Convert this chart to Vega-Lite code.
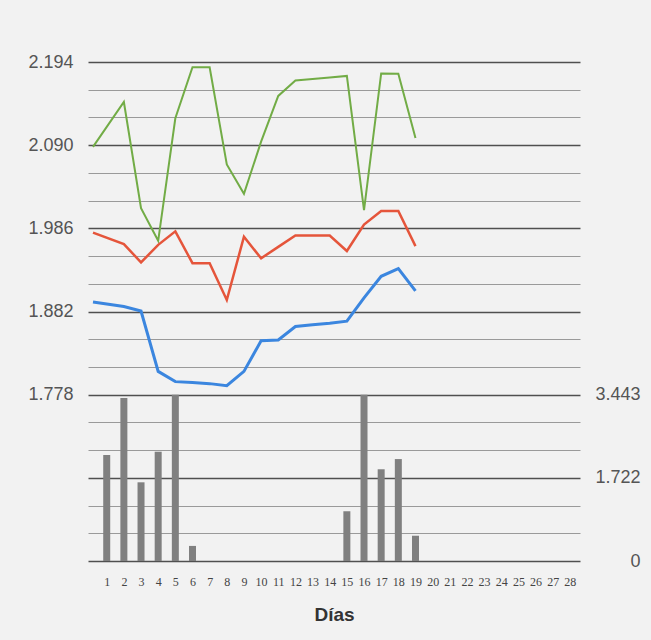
{
  "$schema": "https://vega.github.io/schema/vega-lite/v6.json",
  "width": 492,
  "height": 499,
  "autosize": {"type": "none"},
  "padding": {"left": 88, "top": 62, "right": 71, "bottom": 79},
  "background": "#f2f2f2",
  "config": {"view": {"stroke": null}},
  "datasets": {
    "lluvia": [
      {"dia": 1, "valor": 2.194}, {"dia": 2, "valor": 3.375}, {"dia": 3, "valor": 1.629},
      {"dia": 4, "valor": 2.262}, {"dia": 5, "valor": 3.443}, {"dia": 6, "valor": 0.312},
      {"dia": 7, "valor": 0}, {"dia": 8, "valor": 0}, {"dia": 9, "valor": 0},
      {"dia": 10, "valor": 0}, {"dia": 11, "valor": 0}, {"dia": 12, "valor": 0},
      {"dia": 13, "valor": 0}, {"dia": 14, "valor": 0}, {"dia": 15, "valor": 1.03},
      {"dia": 16, "valor": 3.443}, {"dia": 17, "valor": 1.899}, {"dia": 18, "valor": 2.11},
      {"dia": 19, "valor": 0.523}
    ],
    "series": [
      {"serie": "verde", "dia": 0.2, "valor": 2.0878},
      {"serie": "verde", "dia": 2, "valor": 2.144},
      {"serie": "verde", "dia": 3, "valor": 2.0113},
      {"serie": "verde", "dia": 4, "valor": 1.9704},
      {"serie": "verde", "dia": 5, "valor": 2.1236},
      {"serie": "verde", "dia": 6, "valor": 2.1874},
      {"serie": "verde", "dia": 7, "valor": 2.1874},
      {"serie": "verde", "dia": 8, "valor": 2.0659},
      {"serie": "verde", "dia": 9, "valor": 2.0291},
      {"serie": "verde", "dia": 10, "valor": 2.0945},
      {"serie": "verde", "dia": 11, "valor": 2.1516},
      {"serie": "verde", "dia": 12, "valor": 2.171},
      {"serie": "verde", "dia": 13, "valor": 2.1726},
      {"serie": "verde", "dia": 14, "valor": 2.1746},
      {"serie": "verde", "dia": 15, "valor": 2.1766},
      {"serie": "verde", "dia": 16, "valor": 2.0087},
      {"serie": "verde", "dia": 17, "valor": 2.1797},
      {"serie": "verde", "dia": 18, "valor": 2.1792},
      {"serie": "verde", "dia": 19, "valor": 2.0991},
      {"serie": "rojo", "dia": 0.2, "valor": 1.9806},
      {"serie": "rojo", "dia": 2, "valor": 1.9663},
      {"serie": "rojo", "dia": 3, "valor": 1.9434},
      {"serie": "rojo", "dia": 4, "valor": 1.9653},
      {"serie": "rojo", "dia": 5, "valor": 1.9822},
      {"serie": "rojo", "dia": 6, "valor": 1.9424},
      {"serie": "rojo", "dia": 7, "valor": 1.9424},
      {"serie": "rojo", "dia": 8, "valor": 1.8964},
      {"serie": "rojo", "dia": 9, "valor": 1.9755},
      {"serie": "rojo", "dia": 10, "valor": 1.9485},
      {"serie": "rojo", "dia": 11, "valor": 1.9628},
      {"serie": "rojo", "dia": 12, "valor": 1.9771},
      {"serie": "rojo", "dia": 13, "valor": 1.9771},
      {"serie": "rojo", "dia": 14, "valor": 1.9771},
      {"serie": "rojo", "dia": 15, "valor": 1.9577},
      {"serie": "rojo", "dia": 16, "valor": 1.9908},
      {"serie": "rojo", "dia": 17, "valor": 2.0077},
      {"serie": "rojo", "dia": 18, "valor": 2.0077},
      {"serie": "rojo", "dia": 19, "valor": 1.9638},
      {"serie": "azul", "dia": 0.2, "valor": 1.8939},
      {"serie": "azul", "dia": 2, "valor": 1.8882},
      {"serie": "azul", "dia": 3, "valor": 1.8826},
      {"serie": "azul", "dia": 4, "valor": 1.8071},
      {"serie": "azul", "dia": 5, "valor": 1.7943},
      {"serie": "azul", "dia": 6, "valor": 1.7933},
      {"serie": "azul", "dia": 7, "valor": 1.7918},
      {"serie": "azul", "dia": 8, "valor": 1.7892},
      {"serie": "azul", "dia": 9, "valor": 1.8071},
      {"serie": "azul", "dia": 10, "valor": 1.8454},
      {"serie": "azul", "dia": 11, "valor": 1.8464},
      {"serie": "azul", "dia": 12, "valor": 1.8632},
      {"serie": "azul", "dia": 13, "valor": 1.8653},
      {"serie": "azul", "dia": 14, "valor": 1.8673},
      {"serie": "azul", "dia": 15, "valor": 1.8699},
      {"serie": "azul", "dia": 16, "valor": 1.899},
      {"serie": "azul", "dia": 17, "valor": 1.926},
      {"serie": "azul", "dia": 18, "valor": 1.9357},
      {"serie": "azul", "dia": 19, "valor": 1.9077}
    ]
  },
  "encoding": {
    "x": {
      "field": "dia", "type": "quantitative",
      "scale": {"domain": [0.2, 28.3], "nice": false, "zero": false},
      "axis": {
        "values": [1,2,3,4,5,6,7,8,9,10,11,12,13,14,15,16,17,18,19,20,21,22,23,24,25,26,27,28],
        "grid": false, "ticks": false, "tickSize": 0, "domain": false,
        "labelFont": "Liberation Serif", "labelFontSize": 12, "labelColor": "#444",
        "labelPadding": 15, "labelFlush": false, "labelOverlap": false, "labelBound": false,
        "labelSeparation": 0,
        "title": "Días", "titleFont": "Liberation Sans", "titleFontSize": 19,
        "titleFontWeight": "bold", "titleColor": "#333", "titlePadding": 18
      }
    }
  },
  "layer": [
    {
      "data": {"name": "lluvia"},
      "mark": {"type": "bar", "color": "#808080", "size": 7},
      "encoding": {
        "y": {
          "field": "valor", "type": "quantitative",
          "scale": {"domain": [0, 10.329], "nice": false},
          "axis": {
            "orient": "right",
            "values": [0, 0.57383, 1.14767, 1.7215, 2.29533, 2.86917, 3.443, 4.01683, 4.59067, 5.1645, 5.73833, 6.31217, 6.886, 7.45983, 8.03367, 8.6075, 9.18133, 9.75517, 10.329],
            "grid": true,
            "gridColor": {"condition": {"test": "round(datum.value / 0.573833) % 3 == 0", "value": "#505050"}, "value": "#9a9a9a"},
            "gridWidth": {"condition": {"test": "round(datum.value / 0.573833) % 3 == 0", "value": 1.6}, "value": 1},
            "ticks": false, "tickSize": 0, "domain": false,
            "labelExpr": "abs(datum.value) < 0.01 ? '0' : abs(datum.value - 1.7215) < 0.01 ? '1.722' : abs(datum.value - 3.443) < 0.01 ? '3.443' : ''",
            "labelAlign": "right", "labelPadding": 60,
            "labelFont": "Liberation Sans", "labelFontSize": 18, "labelColor": "#555",
            "title": null
          }
        }
      }
    },
    {
      "data": {"name": "series"},
      "mark": {"type": "line", "strokeJoin": "miter"},
      "encoding": {
        "y": {
          "field": "valor", "type": "quantitative",
          "scale": {"domain": [1.57, 2.194], "nice": false, "zero": false},
          "axis": {
            "orient": "left",
            "values": [1.778, 1.882, 1.986, 2.09, 2.194],
            "format": ".3f",
            "grid": false, "ticks": false, "tickSize": 0, "domain": false,
            "labelPadding": 15, "labelFont": "Liberation Sans", "labelFontSize": 18,
            "labelColor": "#555", "title": null
          }
        },
        "color": {
          "field": "serie", "type": "nominal",
          "scale": {"domain": ["verde", "rojo", "azul"], "range": ["#72ac46", "#e5553b", "#3b86df"]},
          "legend": null
        },
        "strokeWidth": {
          "field": "serie", "type": "nominal",
          "scale": {"domain": ["verde", "rojo", "azul"], "range": [2, 3, 3]},
          "legend": null
        }
      }
    }
  ],
  "resolve": {"scale": {"y": "independent"}, "axis": {"y": "independent"}}
}
